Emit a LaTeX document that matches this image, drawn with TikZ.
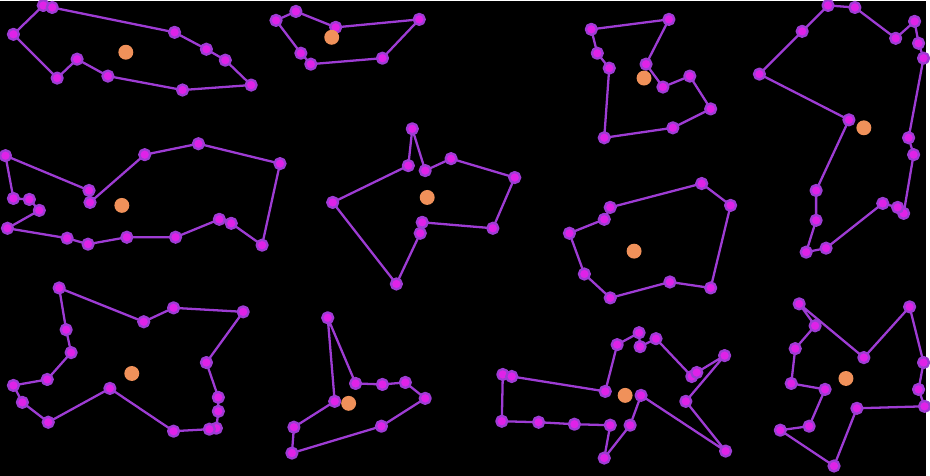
\documentclass[tikz,border=0pt]{standalone}
\definecolor{edgepurple}{RGB}{158,60,212}
\definecolor{vertmagenta}{RGB}{224,34,232}
\definecolor{centorange}{RGB}{240,145,90}

\begin{document}
\begin{tikzpicture}[x=1pt, y=-1pt, line join=round,
        poly/.style={draw=edgepurple, line width=2.3pt, mark=*, mark size=5.5pt,
            mark options={draw=none, fill=vertmagenta}},
        cent/.style={circle, fill=centorange, inner sep=0pt, minimum size=15pt}]

    \fill[black] (0,0) rectangle (930,477);

    % --- górny rząd ---
    \draw[poly] plot coordinates {(43,4) (52,6) (175,31) (207,48) (226,59) (252,84)
        (183,89) (108,75) (77,58) (57,77) (13,33)} -- cycle;
    \node[cent] (c1) at (126,51) {};

    \draw[poly] plot coordinates {(297,10) (337,26) (421,18) (384,57) (312,63)
        (302,52) (277,19)} -- cycle;
    \node[cent] (c2) at (333,36) {};

    \draw[poly] plot coordinates {(672,18) (594,28) (600,52) (612,67) (607,137)
        (676,127) (714,108) (693,75) (666,86) (649,63)} -- cycle;
    \node[cent] (c3) at (647,77) {};

    \draw[poly] plot coordinates {(832,4) (859,6) (900,37) (919,20) (923,42) (928,57)
        (913,137) (918,154) (908,213) (902,207) (887,203) (830,248) (810,252)
        (820,220) (820,190) (853,119) (763,73) (806,30)} -- cycle;
    \node[cent] (c4) at (868,127) {};

    % --- środkowy rząd ---
    \draw[poly] plot coordinates {(5,155) (89,190) (90,202) (145,154) (199,143)
        (281,163) (263,245) (232,223) (220,219) (176,237) (127,237) (88,244)
        (67,238) (7,228) (39,210) (29,199) (13,198)} -- cycle;
    \node[cent] (c5) at (122,205) {};

    \draw[poly] plot coordinates {(414,128) (427,170) (453,158) (517,177) (495,228)
        (424,222) (422,233) (398,284) (334,202) (410,165)} -- cycle;
    \node[cent] (c6) at (429,197) {};

    \draw[poly] plot coordinates {(705,183) (734,205) (714,288) (673,282) (613,298)
        (587,274) (572,233) (607,219) (613,207)} -- cycle;
    \node[cent] (c7) at (637,251) {};

    % --- dolny rząd ---
    \draw[poly] plot coordinates {(59,288) (144,322) (174,308) (244,312) (207,363)
        (219,398) (219,412) (217,429) (210,430) (174,432) (110,389) (48,423)
        (22,403) (13,386) (47,380) (71,353) (66,330)} -- cycle;
    \node[cent] (c8) at (132,374) {};

    \draw[poly] plot coordinates {(329,318) (357,384) (384,385) (407,383) (427,399)
        (383,427) (293,454) (295,428) (336,402)} -- cycle;
    \node[cent] (c9) at (350,404) {};

    \draw[poly] plot coordinates {(505,375) (514,377) (608,392) (620,345) (642,333)
        (643,347) (659,339) (695,377) (700,373) (728,356) (689,402) (729,452)
        (644,396) (633,426) (607,459) (613,426) (577,425) (541,423) (504,422)} -- cycle;
    \node[cent] (c10) at (628,396) {};

    \draw[poly] plot coordinates {(803,304) (868,358) (914,307) (928,363) (923,390)
        (929,407) (861,409) (838,467) (784,431) (813,427) (829,390) (795,384)
        (799,349) (819,326)} -- cycle;
    \node[cent] (c11) at (850,379) {};

\end{tikzpicture}
\end{document}
